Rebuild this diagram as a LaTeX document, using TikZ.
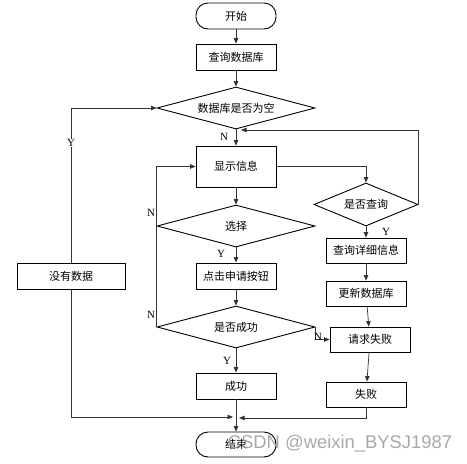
\documentclass[tikz,border=0pt]{standalone}
\usepackage{fontspec}
\setmainfont{Liberation Serif}
\newfontfamily\cjk{Noto Sans CJK SC}
\newfontfamily\wmfont{Liberation Sans}
\usetikzlibrary{shapes.geometric,arrows.meta}
\begin{document}
\begin{tikzpicture}[x=1pt,y=-1pt,
  box/.style={draw,line width=0.9pt,minimum width=80pt,minimum height=26pt,inner sep=0pt,font=\cjk\fontsize{11}{13}\selectfont},
  term/.style={box,rounded corners=12pt},
  dec/.style={draw,line width=0.9pt,diamond,aspect=3.7,minimum width=158pt,minimum height=42pt,inner sep=0pt,font=\cjk\fontsize{11}{13}\selectfont},
  conn/.style={line width=0.7pt,draw=black!80},
  arr/.style={conn,-{Triangle[length=5.5pt,width=4.5pt]}},
  lab/.style={font=\fontsize{11}{13}\selectfont,inner sep=0.5pt}]
\useasboundingbox (0,0) rectangle (467,464);
\node[term] (start) at (236,16) {开始};
\node[box] (q) at (236,57) {查询数据库};
\node[dec] (d1) at (236,108) {数据库是否为空};
\node[box,minimum height=41pt] (show) at (236,166.5) {显示信息};
\node[dec] (d2) at (236,226) {选择};
\node[box] (click) at (236,276) {点击申请按钮};
\node[dec] (d3) at (236,327) {是否成功};
\node[box] (ok) at (236,386) {成功};
\node[term,minimum height=25pt] (end) at (236,444.5) {结束};
\node[box,minimum width=108pt] (nodata) at (71,276) {没有数据};
\node[dec,minimum width=104pt,minimum height=43pt,aspect=2.4] (d4) at (366,204.5) {是否查询};
\node[box,minimum height=25pt] (detail) at (366,250.5) {查询详细信息};
\node[box,minimum height=25pt] (upd) at (366,293.5) {更新数据库};
\node[box,minimum height=25pt] (fail1) at (370,339.5) {请求失败};
\node[box,minimum height=25pt] (fail2) at (366,394.5) {失败};
\coordinate (mL) at (233,417);
\coordinate (mR) at (239,418);
\coordinate (back) at (241,130);

\draw[arr] (start) -- (q);
\draw[arr] (q) -- (d1);
\draw[arr] (d1) -- (show);
\node[lab] at (224,137) {N};
\draw[arr] (nodata.north) |- (d1.west);
\node[lab,fill=white] at (71,143) {Y};
\draw[arr] (nodata.south) |- (mL);
\draw[arr] (ok) -- (end);
\draw[arr] (fail2.south) |- (mR);
\draw[arr] (show.east) -| (d4.north);
\draw[arr] (d4.east) |- (back);
\draw[arr] (d4) -- (detail);
\node[lab] at (386,232) {Y};
\draw[arr] (detail) -- (upd);
\draw[arr] (upd) -- (fail1);
\draw[arr] (fail1) -- (fail2);
\draw[arr] (show) -- (d2);
\draw[arr] (d2) -- (click);
\node[lab] at (221,254) {Y};
\draw[arr] (click) -- (d3);
\draw[arr] (d3) -- (ok);
\node[lab] at (227,361) {Y};
\draw[arr] (d3.east) |- (fail1.west);
\node[lab] at (318,337) {N};
\draw[arr] (d3.west) |- (show.west);
\node[lab] at (151,213) {N};
\node[lab] at (151,315) {N};
\node[font=\wmfont\fontsize{18.4}{20}\selectfont,text=black!40,opacity=0.85] (wm) at (340,444) {CSDN @weixin\_BYSJ1987};
\end{tikzpicture}
\end{document}
